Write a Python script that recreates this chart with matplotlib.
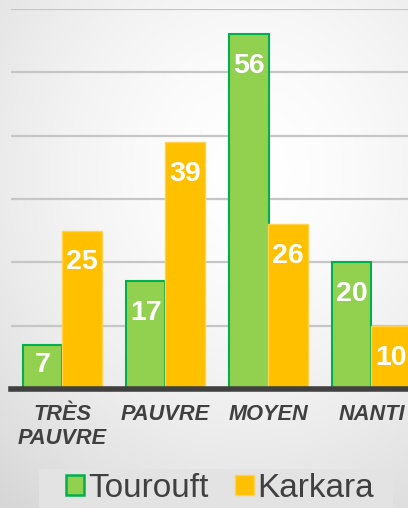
import numpy as np
import matplotlib
matplotlib.use("Agg")
import matplotlib.pyplot as plt
from matplotlib.patches import Patch, Rectangle

categories = ["TRÈS\nPAUVRE", "PAUVRE", "MOYEN", "NANTI"]
series_names = ["Tourouft", "Karkara"]
tourouft = [7, 17, 56, 20]
karkara = [25, 39, 26, 10]

plt.rcParams['font.family'] = ['Liberation Sans', 'DejaVu Sans']

W, H = 408, 508
fig = plt.figure(figsize=(W / 100, H / 100), dpi=100)

# radial gradient background
bg = fig.add_axes([0, 0, 1, 1], zorder=-10)
yy, xx = np.mgrid[0:H, 0:W]
r = np.sqrt(((xx - 250) / 360.0) ** 2 + ((yy - 170) / 400.0) ** 2)
val = 1.0 - 0.14 * np.clip(r, 0, 1.2) ** 1.6
img = np.dstack([val, val, val])
bg.imshow(img, aspect='auto', extent=[0, 1, 0, 1], origin='upper')
bg.axis('off')

# legend background box
fig.patches.append(Rectangle((39 / W, 0), (393 - 39) / W, (H - 469) / H,
                             transform=fig.transFigure, facecolor='#e3e3e3',
                             edgecolor='none', zorder=-5))

ax = fig.add_axes([11 / W, 119 / H, 412 / W, 380 / H])
ax.set_facecolor('none')
x = np.arange(len(categories))
w = 0.38
green_fill, green_edge = '#92d050', '#00b050'
orange_fill, orange_edge = '#ffc000', '#ffd350'
b1 = ax.bar(x - w / 2, tourouft, w, color=green_fill, edgecolor=green_edge, linewidth=1.5, zorder=3)
b2 = ax.bar(x + w / 2, karkara, w, color=orange_fill, edgecolor=orange_edge, linewidth=1.0, zorder=3)

ax.set_xlim(-0.5, 3.5)
ax.set_ylim(0, 60)
ax.set_yticks(range(10, 61, 10))
ax.yaxis.grid(True, color='#c6c6c6', linewidth=1.6, zorder=0)
ax.set_axisbelow(True)
for s in ['left', 'right', 'top']:
    ax.spines[s].set_visible(False)
ax.spines['bottom'].set_color('#404040')
ax.spines['bottom'].set_linewidth(4)
ax.spines['bottom'].set_zorder(5)
ax.tick_params(axis='y', length=0, labelleft=False)
ax.tick_params(axis='x', length=0, pad=11)
ax.set_xticks(x)
ax.set_xticklabels(categories, fontsize=15.7, fontweight='bold', fontstyle='italic',
                   color='#404040', linespacing=1.15)

for bars, vals in ((b1, tourouft), (b2, karkara)):
    for b, v in zip(bars, vals):
        ly = v - 6.1 if v > 12 else v * 0.38
        ax.text(b.get_x() + b.get_width() / 2, ly, str(v), ha='center', va='baseline',
                color='white', fontsize=20.5, fontweight='bold', zorder=6)

handles = [Patch(facecolor=green_fill, edgecolor=green_edge, linewidth=1.8),
           Patch(facecolor=orange_fill, edgecolor=orange_edge, linewidth=1.0)]
leg = fig.legend(handles, series_names, loc='upper left', bbox_to_anchor=(66 / W, 1 - 473 / H),
                 ncol=2, fontsize=24, frameon=False, handlelength=0.55,
                 handleheight=0.55, handletextpad=0.12, columnspacing=0.8,
                 borderpad=0, borderaxespad=0)
for t in leg.get_texts():
    t.set_color('#404040')

fig.savefig('out.png', dpi=100)
